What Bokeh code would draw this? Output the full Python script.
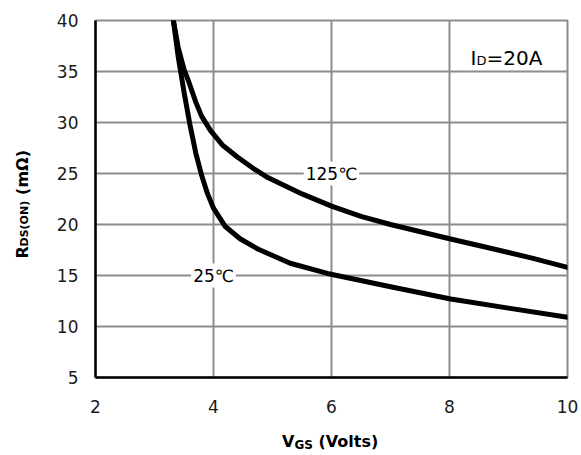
from bokeh.plotting import figure
from bokeh.models import Label, FixedTicker, Div
from bokeh.layouts import row, column
from bokeh.embed import file_html
from bokeh.resources import INLINE

# ---- data ----
vgs_25 = [3.32, 3.40, 3.50, 3.60, 3.70, 3.80, 3.90, 4.00, 4.20, 4.45, 4.75, 5.30, 5.93, 7.00, 8.02, 9.00, 10.0]
rds_25 = [40.0, 36.5, 33.0, 29.8, 27.0, 24.8, 23.0, 21.6, 19.8, 18.6, 17.6, 16.2, 15.2, 13.9, 12.7, 11.8, 10.9]

vgs_125 = [3.32, 3.40, 3.50, 3.58, 3.70, 3.80, 3.95, 4.15, 4.41, 4.70, 4.92, 5.50, 6.00, 6.50, 7.00, 8.00, 8.75, 9.40, 10.0]
rds_125 = [40.0, 37.4, 35.2, 34.0, 32.0, 30.6, 29.2, 27.8, 26.6, 25.4, 24.6, 23.0, 21.8, 20.8, 20.0, 18.6, 17.6, 16.7, 15.8]

x_ticks = [2, 4, 6, 8, 10]
y_ticks = [5, 10, 15, 20, 25, 30, 35, 40]

GRID = "#8c8c8c"
FONT = "DejaVu Sans"
YDIV_W = 40          # width of the column holding the y title
PW, PH = 540, 422    # figure size
XDIV_H = 31

p = figure(width=PW, height=PH, x_range=(2, 10), y_range=(5, 40),
           output_backend="svg", toolbar_location=None,
           min_border_left=95 - YDIV_W, min_border_right=13, min_border_top=20, min_border_bottom=45)

p.background_fill_color = "white"
p.border_fill_color = "white"
p.outline_line_color = GRID
p.outline_line_width = 2

p.xaxis.ticker = FixedTicker(ticks=x_ticks)
p.yaxis.ticker = FixedTicker(ticks=y_ticks)
for ax in (p.xaxis, p.yaxis):
    ax.axis_line_color = "black"
    ax.axis_line_width = 2.5
    ax.major_tick_line_color = None
    ax.minor_tick_line_color = None
    ax.major_tick_out = 0
    ax.major_tick_in = 0
    ax.major_label_text_font = FONT
    ax.major_label_text_font_size = "17px"
    ax.major_label_text_color = "#1a1a1a"
p.xaxis.major_label_standoff = 22
p.yaxis.major_label_standoff = 17

p.xgrid.grid_line_color = GRID
p.ygrid.grid_line_color = GRID
p.xgrid.grid_line_width = 2
p.ygrid.grid_line_width = 2

p.line(vgs_25, rds_25, line_color="black", line_width=5, line_join="round", line_cap="round")
p.line(vgs_125, rds_125, line_color="black", line_width=5, line_join="round", line_cap="round")

def px2v(px):
    return 2 + (px - 95) / 59.0

def py2r(py):
    return 5 + (377 - py) / 10.2

def lab(text, x, y, size, align="left", baseline="alphabetic", bg=None):
    l = Label(x=x, y=y, text=text, text_font=FONT, text_font_size=size,
              text_color="black", text_align=align, text_baseline=baseline)
    if bg:
        l.background_fill_color = bg
        l.padding = 2
    p.add_layout(l)

# curve labels (centred on gridline crossings)
lab("125℃", 6, 25, "17px", align="center", baseline="middle", bg="white")
lab("25℃", 4, 15, "17px", align="center", baseline="middle", bg="white")

# I_D = 20A
lab("I", px2v(470), py2r(57), "20px")
lab("D", px2v(476), py2r(60), "13px")
lab("=20A", px2v(486), py2r(57), "20px")

# axis titles with subscripts (HTML text)
xtitle = Div(width=PW, height=XDIV_H, margin=0, text=(
    '<div style="margin:0; padding:0; margin-left:%dpx; margin-top:12px; '
    'font-family:\'DejaVu Sans\'; font-weight:bold; font-size:16px; line-height:16px; '
    'white-space:nowrap; color:black">V<span style="font-size:12px; position:relative; top:2px">GS</span>'
    ' (Volts)</div>') % (282 - YDIV_W))

ytitle = Div(width=YDIV_W, height=PH + XDIV_H, margin=0, text=(
    '<div style="margin:0; padding:0; margin-left:15px; margin-top:150px; '
    'writing-mode:vertical-rl; transform:rotate(180deg); '
    'font-family:\'DejaVu Sans\'; font-weight:bold; font-size:16px; line-height:16px; '
    'white-space:nowrap; color:black">R<span style="font-size:11px; position:relative; left:-2px">DS(ON)</span>'
    ' (mΩ)</div>'))

layout = row(ytitle, column(p, xtitle))

open("out.html", "w").write(file_html(layout, INLINE))
